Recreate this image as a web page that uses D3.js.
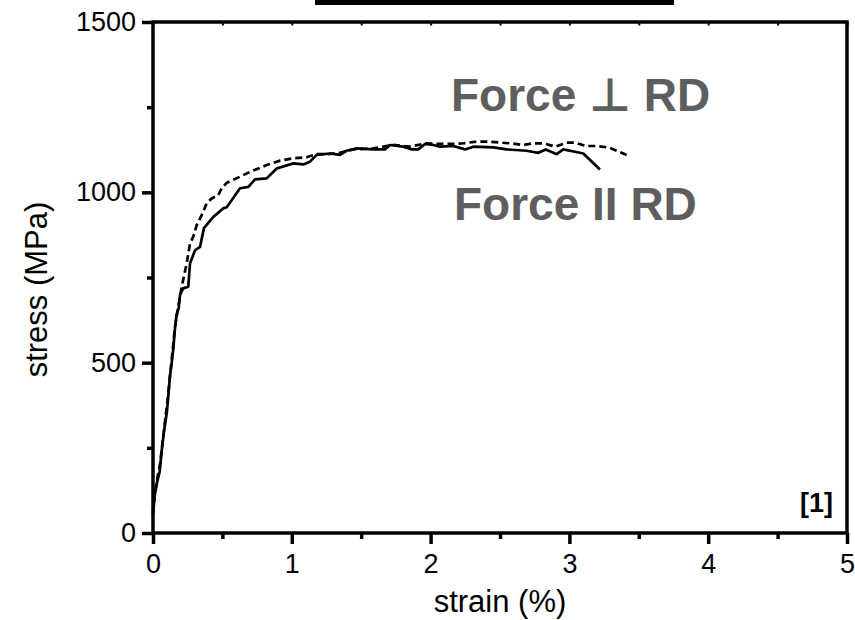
<!DOCTYPE html>
<html>
<head>
<meta charset="utf-8">
<script src="https://cdn.jsdelivr.net/npm/d3@7"></script>
<style>
  html, body { margin: 0; padding: 0; background: #ffffff; }
  svg { display: block; }
  text { font-family: "Liberation Sans", Arial, "DejaVu Sans", sans-serif; }
</style>
</head>
<body>
<svg id="chart" width="855" height="620"></svg>
<script>
// ---- data ----
const xTicks = [0, 1, 2, 3, 4, 5];
const xMinorTicks = [0.5, 1.5, 2.5, 3.5, 4.5];
const yTicks = [0, 500, 1000, 1500];
const yMinorTicks = [250, 750, 1250];
const xLabel = "strain (%)";
const yLabel = "stress (MPa)";
const seriesNames = ["Force II RD", "Force \u22A5 RD"];
const refLabel = "[1]";

// solid curve: Force II RD  [strain %, stress MPa]
const parallelRD = [
  [0, 55], [0.012, 110], [0.03, 150], [0.048, 180], [0.065, 250], [0.08, 300],
  [0.1, 355], [0.11, 400], [0.122, 460], [0.135, 500], [0.146, 540], [0.158, 600],
  [0.17, 640], [0.185, 660], [0.195, 700], [0.218, 718], [0.254, 723], [0.267, 792],
  [0.303, 830], [0.339, 840], [0.367, 895], [0.435, 928], [0.507, 953], [0.531, 956],
  [0.627, 1012], [0.687, 1016], [0.735, 1038], [0.819, 1041], [0.891, 1070], [1.011, 1085],
  [1.083, 1082], [1.131, 1090], [1.179, 1110], [1.275, 1114], [1.347, 1110], [1.395, 1122],
  [1.467, 1129], [1.587, 1126], [1.671, 1126], [1.707, 1139], [1.803, 1134], [1.864, 1126],
  [1.911, 1126], [1.96, 1142], [2.02, 1139], [2.068, 1134], [2.164, 1136], [2.248, 1126],
  [2.308, 1134], [2.452, 1132], [2.548, 1126], [2.692, 1122], [2.776, 1116], [2.83, 1126],
  [2.908, 1112], [2.956, 1126], [3.04, 1119], [3.1, 1114], [3.22, 1067]
];

// dashed curve: Force ⊥ RD
const perpRD = [
  [0, 60], [0.015, 120], [0.035, 170], [0.05, 200], [0.07, 270], [0.09, 340],
  [0.105, 390], [0.12, 450], [0.14, 530], [0.158, 605], [0.18, 660], [0.207, 723],
  [0.243, 792], [0.267, 850], [0.29, 870], [0.315, 904], [0.351, 933], [0.387, 968],
  [0.423, 982], [0.47, 992], [0.495, 1012], [0.531, 1028], [0.627, 1046], [0.699, 1060],
  [0.819, 1080], [0.915, 1093], [1.011, 1100], [1.107, 1103], [1.179, 1112], [1.251, 1112],
  [1.347, 1116], [1.443, 1126], [1.587, 1129], [1.73, 1139], [1.85, 1134], [1.97, 1144],
  [2.04, 1142], [2.14, 1142], [2.24, 1144], [2.33, 1149], [2.40, 1149], [2.50, 1146],
  [2.57, 1144], [2.67, 1139], [2.74, 1144], [2.81, 1144], [2.90, 1134], [2.98, 1146],
  [3.04, 1146], [3.12, 1136], [3.20, 1136], [3.29, 1131], [3.36, 1119], [3.44, 1105]
];

// ---- layout ----
const svg = d3.select("#chart");
const L = 153, R = 847, T = 22, B = 533;
const x = d3.scaleLinear().domain([0, 5]).range([L, R]);
const y = d3.scaleLinear().domain([0, 1500]).range([B, T]);

// top black bar (cropped element above the figure)
svg.append("rect").attr("x", 315).attr("y", 0).attr("width", 359).attr("height", 5).attr("fill", "#000");

// curves
const line = d3.line().x(d => x(d[0])).y(d => y(d[1]));
svg.append("path").datum(parallelRD).attr("d", line)
  .attr("fill", "none").attr("stroke", "#000").attr("stroke-width", 2.7).attr("stroke-linejoin", "round");
svg.append("path").datum(perpRD).attr("d", line)
  .attr("fill", "none").attr("stroke", "#000").attr("stroke-width", 2.7)
  .attr("stroke-dasharray", "7,4");

// axes
function styleAxis(g) {
  g.select(".domain").remove();
  g.selectAll(".tick line").attr("stroke", "#000").attr("stroke-width", 3.5);
  g.selectAll(".tick text").attr("fill", "#000")
    .style("font-family", '"Liberation Sans", Arial, sans-serif').style("font-size", "27px");
}
svg.append("g").attr("transform", `translate(0,${B})`)
  .call(d3.axisBottom(x).tickValues(xTicks).tickSize(11).tickPadding(10).tickFormat(d3.format("d")))
  .call(styleAxis);
svg.append("g").attr("transform", `translate(0,${B})`)
  .call(d3.axisBottom(x).tickValues(xMinorTicks).tickSize(6).tickFormat(""))
  .call(styleAxis);
svg.append("g").attr("transform", `translate(${L},0)`)
  .call(d3.axisLeft(y).tickValues(yTicks).tickSize(11).tickPadding(6).tickFormat(d3.format("d")))
  .call(styleAxis);
svg.append("g").attr("transform", `translate(${L},0)`)
  .call(d3.axisLeft(y).tickValues(yMinorTicks).tickSize(6).tickFormat(""))
  .call(styleAxis);
// top mirrored small ticks
svg.append("g").attr("transform", `translate(0,${T})`)
  .call(d3.axisBottom(x).tickValues(xTicks.concat(xMinorTicks)).tickSize(3.5).tickFormat(""))
  .call(g => { g.select(".domain").remove(); g.selectAll(".tick line").attr("stroke", "#000").attr("stroke-width", 2); });

// frame
svg.append("rect").attr("x", L).attr("y", T).attr("width", R - L).attr("height", B - T)
  .attr("fill", "none").attr("stroke", "#000").attr("stroke-width", 3.5);

// axis titles
svg.append("text").attr("x", (L + R) / 2).attr("y", 612).attr("text-anchor", "middle")
  .style("font-size", "31px").attr("fill", "#000").text(xLabel);
svg.append("text").attr("transform", `translate(47,${(T + B) / 2 + 12}) rotate(-90)`)
  .attr("text-anchor", "middle").style("font-size", "31px").attr("fill", "#000").text(yLabel);

// series labels
svg.append("text").attr("x", 451).attr("y", 111).style("font-size", "46px").style("font-weight", "bold")
  .attr("fill", "#5e5e5e").text(seriesNames[1]);
svg.append("text").attr("x", 454).attr("y", 220).style("font-size", "46px").style("font-weight", "bold")
  .attr("fill", "#5e5e5e").text(seriesNames[0]);

// reference tag
svg.append("text").attr("x", 833).attr("y", 512).attr("text-anchor", "end")
  .style("font-size", "27px").style("font-weight", "bold").attr("fill", "#000").text(refLabel);
</script>
</body>
</html>
